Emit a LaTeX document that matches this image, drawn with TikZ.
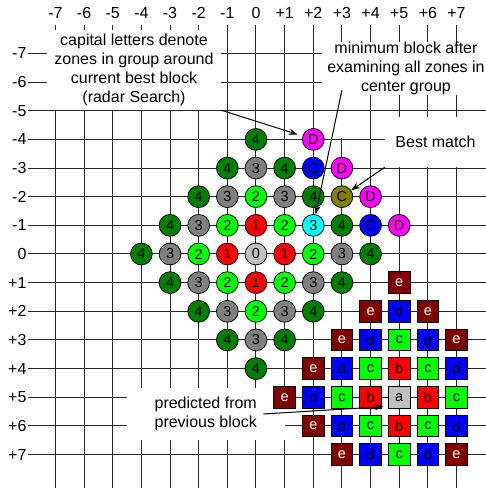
\documentclass[tikz,border=0pt]{standalone}
\usepackage{fontspec}
\setmainfont{Liberation Sans}
\usepackage{tikz}
\usetikzlibrary{arrows.meta, positioning, calc}

\definecolor{zc0}{HTML}{C0C0C0}
\definecolor{zc1}{HTML}{FF0000}
\definecolor{zc2}{HTML}{00FF00}
\definecolor{zc3}{HTML}{808080}
\definecolor{zc4}{HTML}{008000}
\definecolor{zbest}{HTML}{00FFFF}
\definecolor{zblue}{HTML}{0000FF}
\definecolor{zolive}{HTML}{808000}
\definecolor{zmag}{HTML}{FF00FF}
\definecolor{bdark}{HTML}{800000}

\tikzset{
  blk0/.style={fill=zc0},
  blk1/.style={fill=zc1},
  blk2/.style={fill=zc2},
  blk3/.style={fill=zblue},
  blk4/.style={fill=bdark, text=white}
}

\begin{document}
\begin{tikzpicture}[>=Stealth, x=0.8cm, y=-0.8cm,
    gridline/.style={black!85, line width=0.8pt},
    axislabel/.style={inner sep=1pt, font=\fontsize{12.7}{15}\selectfont},
    zone/.style={circle, draw=black, line width=0.6pt, minimum size=0.61cm, inner sep=0pt, font=\fontsize{11.5}{12}\selectfont},
    blk/.style={rectangle, draw=black, line width=0.6pt, minimum size=0.61cm, inner sep=0pt, font=\fontsize{11.5}{12}\selectfont},
    note/.style={fill=white, inner sep=0pt, align=center, font=\fontsize{12.7}{15}\selectfont},
    pointer/.style={->, line width=0.8pt, >={Stealth[length=7pt, width=5pt]}}]

    \useasboundingbox (-8.935,-8.866) rectangle (8.028,8.168);

    % grid and axis labels
    \foreach \k in {-7,...,7}{
        \draw[gridline] (-7.96,\k) -- (8.03,\k);
        \node[axislabel, anchor=east] (row\k) at (-7.96,\k) {\ifnum\k>0 +\fi\k};
        \node[axislabel] (col\k) at (\k,-8.41) {\ifnum\k>0 +\fi\k};
        \ifnum\k=3
            \draw[gridline] (\k,-7.99) -- (\k,-7.40) (\k,-4.05) -- (\k,8.17);
        \else
            \draw[gridline] (\k,-7.99) -- (\k,8.17);
        \fi
    }

    % text boxes
    \node[note, minimum width=4.86cm, minimum height=2.23cm] (capital) at (-4.258,-6.422)
        {capital letters denote\\zones in group around\\current best block\\(radar Search)};
    \node[note, minimum width=4.69cm, minimum height=1.48cm] (minimum) at (5.236,-6.475)
        {minimum block after\\examining all zones in\\center group};
    \node[note, minimum width=2.82cm, minimum height=1.40cm] (best) at (6.265,-3.909) {Best match};
    \node[note, minimum width=4.40cm, minimum height=1.45cm] (predicted) at (-1.754,5.585)
        {predicted from\\previous block};

    % zones around the predicted block
    \foreach \x in {-4,...,4}{
        \foreach \y in {-4,...,4}{
            \pgfmathtruncatemacro{\d}{abs(\x)+abs(\y)}
            \ifnum\d<5
                \def\zfill{zc\d}
                \ifnum\x=2 \ifnum\y=-1 \def\zfill{zbest}\fi\fi
                \node[zone, fill=\zfill] (z\x\y) at (\x,\y) {\d};
            \fi
        }
    }

    % radar group around current best block
    \foreach \x/\y/\lab/\col/\nm in {2/-3/C/zblue/radarC1, 3/-2/C/zolive/radarC2, 4/-1/C/zblue/radarC3,
            2/-4/D/zmag/radarD1, 3/-3/D/zmag/radarD2, 4/-2/D/zmag/radarD3, 5/-1/D/zmag/radarD4}
        \node[zone, fill=\col] (\nm) at (\x,\y) {\lab};

    % blocks
    \foreach \x in {1,...,7}{
        \foreach \y in {1,...,7}{
            \pgfmathtruncatemacro{\d}{abs(\x-5)+abs(\y-5)}
            \ifnum\d<5
                \node[blk, blk\d] (s\x\y) at (\x,\y) {\ifcase\d a\or b\or c\or d\or e\fi};
            \fi
        }
    }

    \coordinate (minfrom) at (3,-5.72);
    \coordinate (predfrom) at ([xshift=-17pt]predicted.east);
    \coordinate (predtip) at ([xshift=-3.5pt, yshift=1.5pt]s55.south west);

    \draw[pointer, shorten >=4pt] (capital.south east) -- (radarD1);
    \draw[pointer] (minfrom) -- (z2-1);
    \draw[pointer] (best.south west) -- (radarC2);
    \draw[pointer] (predfrom) -- (predtip);
\end{tikzpicture}
\end{document}
